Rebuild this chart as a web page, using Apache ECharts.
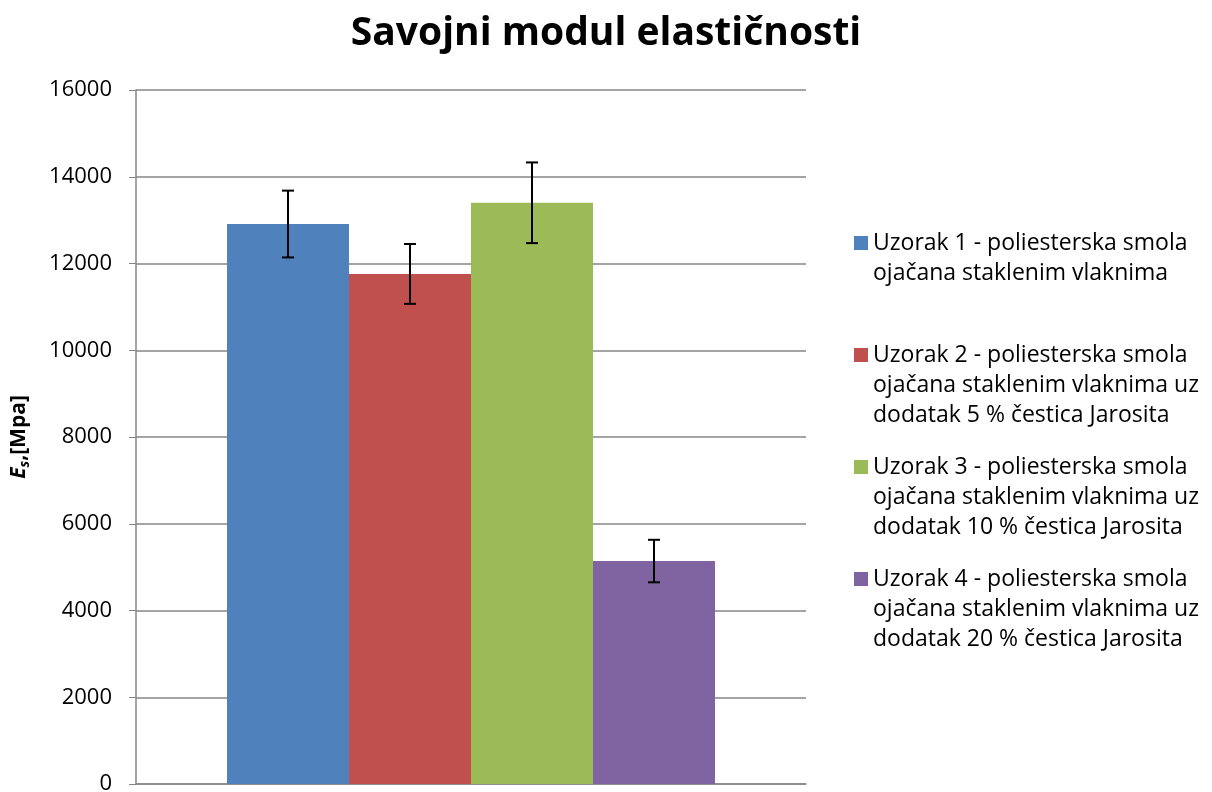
<!DOCTYPE html>
<html>
<head>
<meta charset="utf-8">
<script src="https://cdn.jsdelivr.net/npm/echarts@6/dist/echarts.min.js"></script>
<style>
  html, body { margin: 0; padding: 0; background: #fff; }
  #chart { width: 1212px; height: 792px; }
</style>
</head>
<body>
<div id="chart"></div>
<script>
// podaci ocitani sa slike
const categories = [''];
const seriesNames = [
  'Uzorak 1 - poliesterska smola ojačana staklenim vlaknima',
  'Uzorak 2 - poliesterska smola ojačana staklenim vlaknima uz dodatak 5 % čestica Jarosita',
  'Uzorak 3 - poliesterska smola ojačana staklenim vlaknima uz dodatak 10 % čestica Jarosita',
  'Uzorak 4 - poliesterska smola ojačana staklenim vlaknima uz dodatak 20 % čestica Jarosita'
];
// tekst legende po redovima (kao u originalu)
const legendLines = [
  ['Uzorak 1 - poliesterska smola', 'ojačana staklenim vlaknima', ' '],
  ['Uzorak 2 - poliesterska smola', 'ojačana staklenim vlaknima uz', 'dodatak 5 % čestica Jarosita'],
  ['Uzorak 3 - poliesterska smola', 'ojačana staklenim vlaknima uz', 'dodatak 10 % čestica Jarosita'],
  ['Uzorak 4 - poliesterska smola', 'ojačana staklenim vlaknima uz', 'dodatak 20 % čestica Jarosita']
];
const values = [12910, 11760, 13400, 5140];
const errors = [770, 690, 930, 490];
const colors = ['#4F81BD', '#C0504D', '#9BBB59', '#8064A2'];

const BAR_W = 122;
const FONT = '"Open Sans", sans-serif';

const chart = echarts.init(document.getElementById('chart'));

const barSeries = seriesNames.map((name, i) => ({
  name: name,
  type: 'bar',
  data: [values[i]],
  barWidth: BAR_W,
  barGap: '0%',
  itemStyle: { color: colors[i] }
}));

// error bars
const errData = values.map((v, i) => [0, v - errors[i], v + errors[i], i]);

const errSeries = {
  type: 'custom',
  data: errData,
  z: 10,
  renderItem: function (params, api) {
    const idx = api.value(3);
    const lo = api.coord([api.value(0), api.value(1)]);
    const hi = api.coord([api.value(0), api.value(2)]);
    const x = lo[0] + (idx - 1.5) * BAR_W;
    const cap = 6;
    const st = { stroke: '#000', lineWidth: 2 };
    return {
      type: 'group',
      children: [
        { type: 'line', shape: { x1: x, y1: lo[1], x2: x, y2: hi[1] }, style: st },
        { type: 'line', shape: { x1: x - cap, y1: hi[1], x2: x + cap, y2: hi[1] }, style: st },
        { type: 'line', shape: { x1: x - cap, y1: lo[1], x2: x + cap, y2: lo[1] }, style: st }
      ]
    };
  }
};

const option = {
  backgroundColor: '#fff',
  animation: false,
  title: {
    text: 'Savojni modul elastičnosti',
    left: 'center',
    top: 9,
    textStyle: { fontFamily: FONT, fontSize: 39, fontWeight: 'bold', color: '#000' }
  },
  grid: { left: 136, right: 406, top: 90, bottom: 8, outerBoundsMode: 'none' },
  legend: {
    orient: 'vertical',
    left: 849,
    top: 223,
    itemWidth: 14,
    itemHeight: 90,
    itemGap: 22,
    // kvadratic poravnat s prvim redom teksta
    icon: 'path://M0,0L0.01,0M0,8H14V22H0ZM0,90L0.01,90',
    itemStyle: { borderWidth: 0 },
    data: seriesNames,
    formatter: function (name) {
      return legendLines[seriesNames.indexOf(name)].join('\n');
    },
    textStyle: { fontFamily: FONT, fontSize: 23, lineHeight: 30, color: '#000' }
  },
  xAxis: {
    type: 'category',
    data: categories,
    axisLine: { lineStyle: { color: '#868686', width: 1.5 } },
    axisTick: { show: false },
    axisLabel: { show: false }
  },
  yAxis: {
    type: 'value',
    min: 0,
    max: 16000,
    interval: 2000,
    name: '{e|E}{s|s}{t|,[Mpa]}',
    nameLocation: 'middle',
    nameRotate: 90,
    nameGap: 104,
    nameTextStyle: {
      fontFamily: FONT,
      color: '#000',
      rich: {
        e: { fontFamily: FONT, fontSize: 21, fontWeight: 'bold', fontStyle: 'italic', color: '#000' },
        s: { fontFamily: FONT, fontSize: 14, fontWeight: 'bold', fontStyle: 'italic', color: '#000', padding: [12, 0, 0, 0] },
        t: { fontFamily: FONT, fontSize: 21, fontWeight: 'bold', color: '#000' }
      }
    },
    axisLine: { show: true, lineStyle: { color: '#868686', width: 1.5 } },
    axisTick: { show: true, length: 7, lineStyle: { color: '#868686' } },
    axisLabel: {
      fontFamily: FONT, fontSize: 22, color: '#000', margin: 24,
      formatter: function (v) { return String(v); }
    },
    splitLine: { lineStyle: { color: '#868686', width: 1.5 } }
  },
  series: barSeries.concat([errSeries])
};

chart.setOption(option);
</script>
</body>
</html>
